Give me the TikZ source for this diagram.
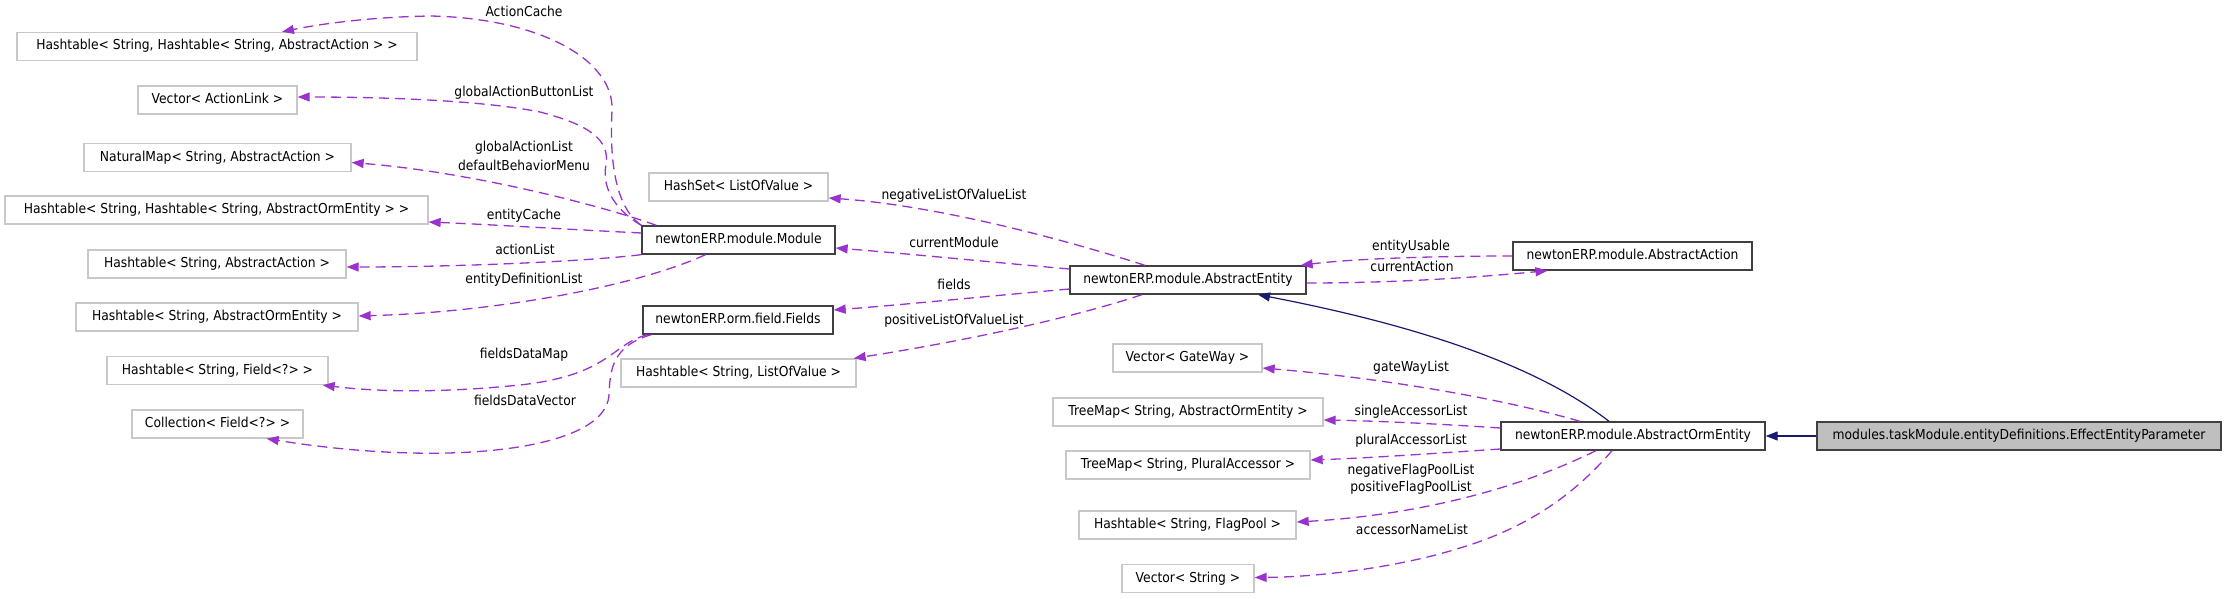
\documentclass[tikz,border=0pt]{standalone}
\usepackage{fontspec}
\usetikzlibrary{arrows.meta,calc}
\newfontfamily\dfont[FakeStretch=0.9]{DejaVu Sans}
\definecolor{memc}{HTML}{9A32CD}
\definecolor{inhc}{HTML}{191970}
\definecolor{extb}{HTML}{C8C8C8}
\definecolor{clsb}{HTML}{404040}
\definecolor{curf}{HTML}{BFBFBF}
\tikzset{
  box/.style={line width=1.3pt, fill=white, inner sep=0pt, minimum height=28pt,
    font=\dfont\fontsize{13.7pt}{16pt}\selectfont, text height=10pt, text depth=3pt},
  cls/.style={box, draw=clsb},
  ext/.style={box, draw=extb},
  cur/.style={box, draw=clsb, fill=curf},
  lbl/.style={inner sep=0pt, font=\dfont\fontsize{13.7pt}{16pt}\selectfont, text height=10pt, text depth=3pt},
  mem/.style={draw=memc, line width=1.3pt, dash pattern=on 10pt off 6pt,
    -{Triangle[length=12pt,width=9pt]}},
  inh/.style={draw=inhc, line width=1.2pt, -{Triangle[length=12pt,width=9pt]}}
}
\begin{document}
\begin{tikzpicture}[x=1pt,y=-1pt]
\useasboundingbox (0,0) rectangle (2227,599);
% left column
\node[ext, minimum width=400pt] (HTAA2) at (217,46.5) {Hashtable< String, Hashtable< String, AbstractAction > >};
\node[ext, minimum width=159pt] (VAL) at (217.5,100) {Vector< ActionLink >};
\node[ext, minimum width=267pt] (NM) at (217.5,157.5) {NaturalMap< String, AbstractAction >};
\node[ext, minimum width=423pt] (HTAOE2) at (216.5,210) {Hashtable< String, Hashtable< String, AbstractOrmEntity > >};
\node[ext, minimum width=258pt] (HTAA) at (217,264) {Hashtable< String, AbstractAction >};
\node[ext, minimum width=282pt] (HTAOE) at (217,317) {Hashtable< String, AbstractOrmEntity >};
\node[ext, minimum width=221pt] (HTF) at (217.5,370.5) {Hashtable< String, Field<?> >};
\node[ext, minimum width=171pt] (COL) at (217.5,424) {Collection< Field<?> >};
% middle column
\node[ext, minimum width=179pt] (HS) at (738.5,187) {HashSet< ListOfValue >};
\node[cls, minimum width=193pt] (MOD) at (738.5,240) {newtonERP.module.Module};
\node[cls, minimum width=190pt] (FLD) at (738,320) {newtonERP.orm.field.Fields};
\node[ext, minimum width=235pt] (HTLOV) at (738.5,373) {Hashtable< String, ListOfValue >};
% third column
\node[cls, minimum width=236pt] (AE) at (1188,280) {newtonERP.module.AbstractEntity};
\node[ext, minimum width=149pt] (VGW) at (1187.5,358) {Vector< GateWay >};
\node[ext, minimum width=270pt] (TMAOE) at (1188,412) {TreeMap< String, AbstractOrmEntity >};
\node[ext, minimum width=244pt] (TMPA) at (1188,465) {TreeMap< String, PluralAccessor >};
\node[ext, minimum width=217pt] (HTFP) at (1187.5,525) {Hashtable< String, FlagPool >};
\node[ext, minimum width=132pt] (VS) at (1188,578.5) {Vector< String >};
% right
\node[cls, minimum width=239pt] (AA) at (1632.5,256) {newtonERP.module.AbstractAction};
\node[cls, minimum width=264pt] (AOE) at (1633,436) {newtonERP.module.AbstractOrmEntity};
\node[cur, minimum width=404pt] (EEP) at (2019,436) {modules.taskModule.entityDefinitions.EffectEntityParameter};

% labels
\node[lbl] (lAC) at (524,13) {ActionCache};
\node[lbl] (lGABL) at (524,93) {globalActionButtonList};
\node[lbl] (lGAL) at (524,148) {globalActionList};
\node[lbl] (lDBM) at (524,167) {defaultBehaviorMenu};
\node[lbl] (lEC) at (524,216) {entityCache};
\node[lbl] (lAL) at (525,251) {actionList};
\node[lbl] (lEDL) at (524,280) {entityDefinitionList};
\node[lbl] (lFDM) at (524,355) {fieldsDataMap};
\node[lbl] (lFDV) at (525,402) {fieldsDataVector};
\node[lbl] (lNLV) at (954,196) {negativeListOfValueList};
\node[lbl] (lCM) at (954,244) {currentModule};
\node[lbl] (lF) at (954,286) {fields};
\node[lbl] (lPLV) at (954,321) {positiveListOfValueList};
\node[lbl] (lEU) at (1411,247) {entityUsable};
\node[lbl] (lCA) at (1412,268) {currentAction};
\node[lbl] (lGW) at (1411,368) {gateWayList};
\node[lbl] (lSAL) at (1411,412) {singleAccessorList};
\node[lbl] (lPAL) at (1411,441) {pluralAccessorList};
\node[lbl] (lNFP) at (1411,471) {negativeFlagPoolList};
\node[lbl] (lPFP) at (1411,488) {positiveFlagPoolList};
\node[lbl] (lANL) at (1412,531) {accessorNameList};

% Module members
\draw[mem] (MOD.north west) .. controls (612,205) and (610,150) .. (612,110)
  .. controls (614,60) and (540,18) .. (430,16)
  .. controls (370,17) and (320,24) .. ($(HTAA2.north)+(65,0)$);
\draw[mem] (MOD.north west) .. controls (612,208) and (602,185) .. (606,165)
  .. controls (610,140) and (590,125) .. (540,112)
  .. controls (480,100) and (380,97) .. ($(VAL.east)+(0,-3)$);
\draw[mem] ($(MOD.north west)+(15,0)$) .. controls (600,205) and (470,172) .. ($(NM.east)+(0,5)$);
\draw[mem] ($(MOD.west)+(0,-7)$) .. controls (560,229) and (500,225) .. ($(HTAOE2.east)+(0,12)$);
\draw[mem] (MOD.south west) .. controls (580,262) and (450,267) .. ($(HTAA.east)+(0,3)$);
\draw[mem] ($(MOD.south)+(-33,0)$) .. controls (640,285) and (500,312) .. ($(HTAOE.east)+(0,-1)$);
% Fields members
\draw[mem] ($(FLD.south west)+(5,0)$) .. controls (610,345) and (610,375) .. (520,385)
  .. controls (440,393) and (380,392) .. ($(HTF.south east)+(-6,0)$);
\draw[mem] ($(FLD.south west)+(9,0)$) .. controls (612,346) and (610,370) .. (609,395)
  .. controls (606,450) and (450,468) .. ($(COL.south east)+(-37,0)$);
% AbstractEntity members
\draw[mem] ($(AE.north)+(-43,0)$) .. controls (1050,235) and (930,205) .. ($(HS.east)+(0,11)$);
\draw[mem] ($(AE.west)+(0,-11)$) .. controls (990,262) and (900,253) .. ($(MOD.east)+(0,8)$);
\draw[mem] ($(AE.west)+(0,9)$) .. controls (990,296) and (900,305) .. ($(FLD.east)+(0,-10)$);
\draw[mem] ($(AE.south)+(-46,0)$) .. controls (1060,322) and (940,345) .. ($(HTLOV.north east)+(-3,0)$);
\draw[mem] (AA.west) .. controls (1430,256) and (1350,259) .. ($(AE.north east)+(-6,0)$);
\draw[mem] ($(AE.east)+(0,3)$) .. controls (1400,283) and (1480,277) .. ($(AA.south)+(-85,0)$);
% AbstractOrmEntity members
\draw[mem] ($(AOE.north)+(-53,0)$) .. controls (1500,398) and (1380,378) .. ($(VGW.east)+(0,10)$);
\draw[mem] ($(AOE.west)+(0,-8)$) .. controls (1440,424) and (1380,421) .. ($(TMAOE.east)+(0,8)$);
\draw[mem] ($(AOE.west)+(0,13)$) .. controls (1440,453) and (1370,458) .. ($(TMPA.east)+(0,-5)$);
\draw[mem] ($(AOE.south)+(-37,0)$) .. controls (1520,488) and (1420,515) .. ($(HTFP.east)+(0,-3)$);
\draw[mem] ($(AOE.south)+(-21,0)$) .. controls (1570,500) and (1520,530) .. (1460,548)
  .. controls (1400,567) and (1320,577) .. ($(VS.east)+(0,-1)$);
% inheritance
\draw[inh] ($(AOE.north)+(-24,0)$) .. controls (1530,360) and (1400,322) .. ($(AE.south)+(70,0)$);
\draw[inh] (EEP.west) -- (AOE.east);
\end{tikzpicture}
\end{document}
